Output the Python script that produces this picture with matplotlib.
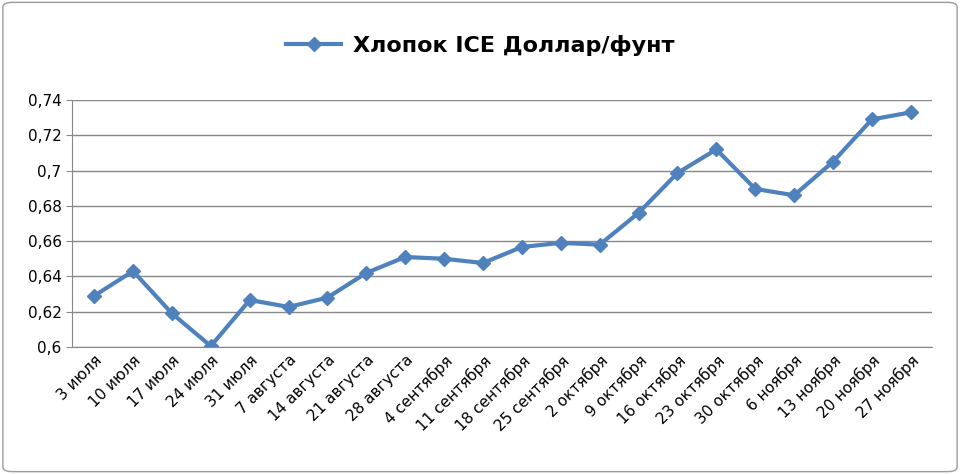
import matplotlib.pyplot as plt
from matplotlib.patches import FancyBboxPatch

dates = ["3 июля", "10 июля", "17 июля", "24 июля", "31 июля", "7 августа",
         "14 августа", "21 августа", "28 августа", "4 сентября", "11 сентября",
         "18 сентября", "25 сентября", "2 октября", "9 октября", "16 октября",
         "23 октября", "30 октября", "6 ноября", "13 ноября", "20 ноября", "27 ноября"]
prices = [0.629, 0.643, 0.619, 0.6005, 0.6266, 0.6227, 0.628, 0.642, 0.651, 0.650,
          0.6476, 0.6567, 0.659, 0.658, 0.676, 0.6986, 0.712, 0.6896, 0.686, 0.705,
          0.729, 0.733]
yticks = [0.6, 0.62, 0.64, 0.66, 0.68, 0.7, 0.72, 0.74]
ytick_labels = ["0,6", "0,62", "0,64", "0,66", "0,68", "0,7", "0,72", "0,74"]

fig = plt.figure(figsize=(9.6, 4.74), dpi=100)
fig.patches.append(FancyBboxPatch((0.003, 0.005), 0.994, 0.99, boxstyle="round,pad=0,rounding_size=0.01",
                                  transform=fig.transFigure, fill=False, edgecolor="#9a9a9a", lw=1))
ax = fig.add_axes([0.075, 0.268, 0.896, 0.521])

x = range(len(dates))
line, = ax.plot(x, prices, color="#4F81BD", lw=3, marker="D", markersize=7,
                markerfacecolor="#4F81BD", markeredgecolor="#4F81BD", label="Хлопок ICE Доллар/фунт")

ax.set_xlim(-0.57, len(dates) - 1 + 0.55)
ax.set_ylim(0.6, 0.74)
ax.set_yticks(yticks)
ax.set_yticklabels(ytick_labels, fontsize=11)
ax.set_xticks(list(x))
ax.set_xticklabels(dates, rotation=45, ha="right", rotation_mode="anchor", fontsize=11)
ax.tick_params(axis="x", length=0, pad=4)
ax.tick_params(axis="y", length=4, color="#888888")
ax.grid(axis="y", color="#888888", lw=1)
ax.set_axisbelow(True)
for s in ["top", "right"]:
    ax.spines[s].set_visible(False)
for s in ["left", "bottom"]:
    ax.spines[s].set_color("#888888")

fig.legend(handles=[line], loc="center", bbox_to_anchor=(0.5, 0.905), frameon=False,
           prop={"weight": "bold", "size": 16}, handlelength=2.5, handletextpad=0.5)

fig.savefig("out.png")
